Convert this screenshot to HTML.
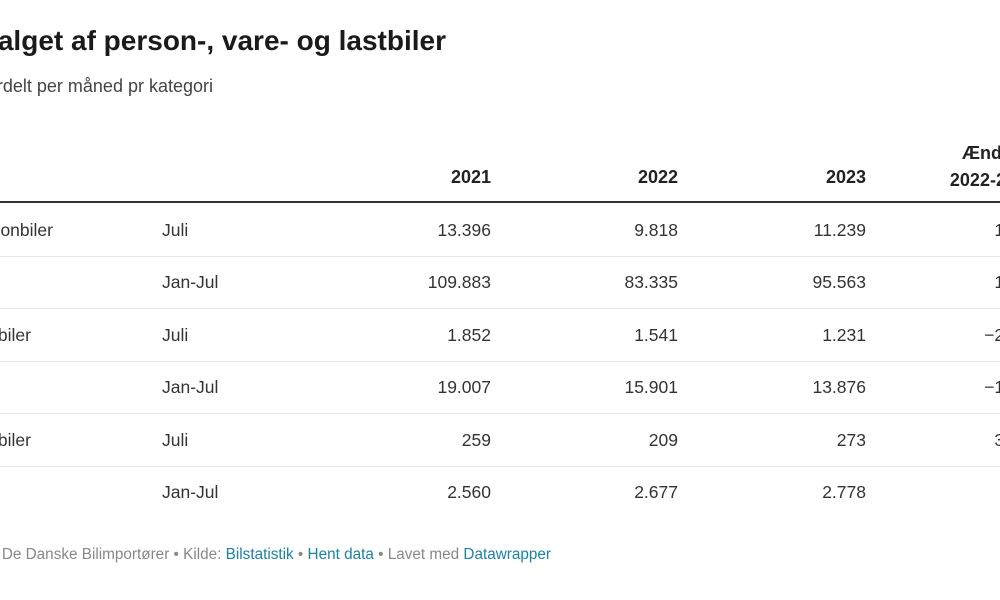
<!DOCTYPE html>
<html><head><meta charset="utf-8"><style>
body{margin:0;width:1000px;height:600px;overflow:hidden;background:#fff;font-family:"Liberation Sans",sans-serif;color:#333;position:relative}
.a{position:absolute;white-space:nowrap}
.r{text-align:right}
.c{font-size:17.5px;line-height:20px;color:#333}
.h{font-weight:bold;font-size:18px;color:#222}
.sep{position:absolute;left:0;width:1000px;height:1px;background:#e6e6e6}
a{color:#1d81a2;text-decoration:none}
</style></head><body>
<div class="a r" style="right:554px;top:24px;font-size:28px;font-weight:bold;color:#1a1a1a;line-height:34px">Salget af person-, vare- og lastbiler</div>
<div class="a r" style="right:787px;top:75px;font-size:18px;color:#444;line-height:22px">Salg fordelt per måned pr kategori</div>
<div class="a r h" style="right:509px;top:167px">2021</div>
<div class="a r h" style="right:322px;top:167px">2022</div>
<div class="a r h" style="right:134px;top:167px">2023</div>
<div class="a r h" style="right:-36px;top:140px;line-height:27px">Ændring<br>2022-2023</div>
<div class="a" style="left:0;top:201px;width:1000px;height:2px;background:#333"></div>
<div id="rows"></div>
<div class="a r" style="right:449px;top:546px;font-size:15.3px;color:#888">Grafik: De Danske Bilimportører • Kilde: <a>Bilstatistik</a> • <a>Hent data</a> • Lavet med <a>Datawrapper</a></div>
<script>
const cats=["Personbiler","","Varebiler","","Lastbiler",""];
const catRight=[947,0,969,0,969,0];
const periods=["Juli","Jan-Jul","Juli","Jan-Jul","Juli","Jan-Jul"];
const v2021=["13.396","109.883","1.852","19.007","259","2.560"];
const v2022=["9.818","83.335","1.541","15.901","209","2.677"];
const v2023=["11.239","95.563","1.231","13.876","273","2.778"];
const change=["14,5%","14,7%","−20,1%","−12,7%","30,6%","3,8%"];
const root=document.getElementById('rows');
function mk(cls,style,text,name){const d=document.createElement('div');d.className=cls;d.style.cssText=style;d.textContent=text;


root.appendChild(d);}
for(let i=0;i<6;i++){
 const y=220+i*52.4;
 if(cats[i])mk('a r c','right:'+catRight[i]+'px;top:'+y+'px',cats[i],'category-label');
 mk('a c','left:162px;top:'+y+'px',periods[i],'period-label');
 mk('a r c','right:509px;top:'+y+'px',v2021[i],'value-2021');
 mk('a r c','right:322px;top:'+y+'px',v2022[i],'value-2022');
 mk('a r c','right:134px;top:'+y+'px',v2023[i],'value-2023');
 mk('a r c','right:-44px;top:'+y+'px',change[i],'value-change');
 if(i<5){const s=document.createElement('div');s.className='sep';s.style.top=(256+i*52.4)+'px';
 
 
 root.appendChild(s);}
}
</script>
</body></html>
